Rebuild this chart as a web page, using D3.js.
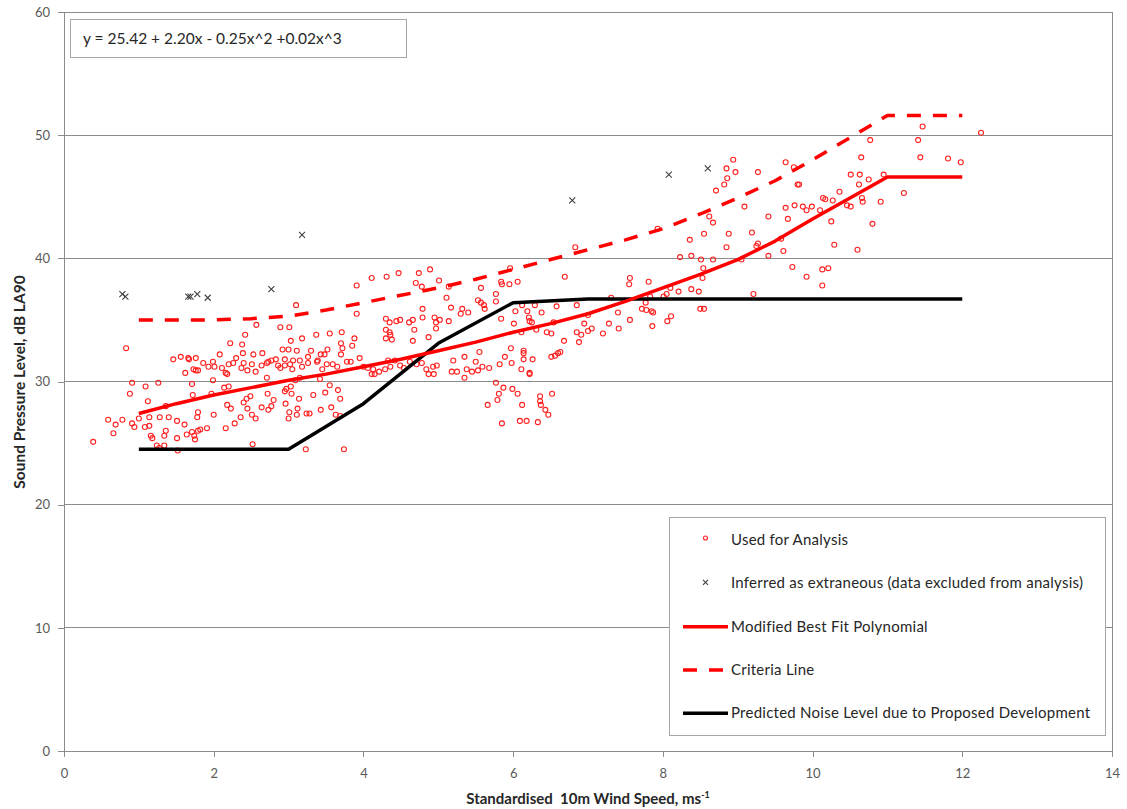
<!DOCTYPE html>
<html>
<head>
<meta charset="utf-8">
<script src="https://cdn.jsdelivr.net/npm/d3@7"></script>
<style>
  html, body { margin: 0; padding: 0; background: #fff; }
  svg { display: block; }
</style>
</head>
<body>
<svg id="chart" width="1127" height="809"></svg>
<script>
// ---------------- DATA ----------------
const xTicks = [0, 2, 4, 6, 8, 10, 12, 14];
const yTicks = [0, 10, 20, 30, 40, 50, 60];

const equationText = "y = 25.42 + 2.20x - 0.25x^2 +0.02x^3";
const xTitle = "Standardised  10m Wind Speed, ms";
const yTitle = "Sound Pressure Level, dB LA90";

const legendLabels = [
  "Used for Analysis",
  "Inferred as extraneous (data excluded from analysis)",
  "Modified Best Fit Polynomial",
  "Criteria Line",
  "Predicted Noise Level due to Proposed Development"
];

const curveX = [1, 1.5, 2, 2.5, 3, 3.5, 4, 4.5, 5, 5.5, 6, 6.5, 7, 7.5, 8, 8.5, 9, 9.5, 10, 10.5, 11, 12];
const bestFit = [27.4, 28.2, 28.9, 29.5, 30.1, 30.6, 31.2, 31.8, 32.5, 33.2, 34.0, 34.7, 35.5, 36.5, 37.6, 38.7, 39.9, 41.4, 43.2, 44.9, 46.6, 46.6];
const criteria = [35.0, 35.0, 35.0, 35.1, 35.3, 35.8, 36.4, 37.0, 37.6, 38.3, 39.1, 39.9, 40.7, 41.5, 42.4, 43.6, 44.9, 46.3, 48.0, 49.8, 51.6, 51.6];
const predictedX = [1, 2, 3, 4, 5, 6, 7, 8, 9, 10, 11, 12];
const predicted = [24.5, 24.5, 24.5, 28.2, 33.1, 36.4, 36.7, 36.7, 36.7, 36.7, 36.7, 36.7];

const extraneousPoints = [
  [0.78, 37.1], [0.82, 36.9], [1.66, 36.9], [1.69, 36.9], [1.78, 37.1],
  [1.92, 36.8], [2.77, 37.5], [3.18, 41.9], [6.79, 44.7], [8.08, 46.8], [8.60, 47.3]
];

const usedPoints = [
  [0.39,25.1],[0.83,32.7],[0.91,29.9],[0.88,29.0],[0.59,26.9],[0.69,26.5],[0.78,26.9],[0.66,25.8],
  [0.91,26.6],[0.94,26.3],[1.00,27.0],[1.09,29.6],[1.12,28.4],[1.14,27.1],[1.08,26.3],[1.14,26.4],
  [1.16,25.6],[1.18,25.4],[1.24,24.8],[1.27,24.6],[1.34,24.8],[1.34,25.6],[1.36,26.0],[1.26,29.9],
  [1.28,27.1],[1.40,27.1],[1.51,26.8],[1.51,25.4],[1.52,24.4],[1.36,28.0],[1.46,31.8],[1.56,32.0],
  [1.66,31.9],[1.67,31.8],[1.76,31.9],[1.62,30.7],[1.73,31.0],[1.76,30.9],[1.79,30.9],[1.71,29.8],
  [1.72,28.9],[1.79,27.5],[1.78,27.1],[1.61,26.5],[1.64,25.7],[1.71,25.9],[1.74,25.6],[1.75,25.3],
  [1.79,26.0],[1.82,26.1],[1.91,26.2],[1.86,31.5],[1.93,31.2],[1.99,31.6],[2.01,31.2],[1.99,30.1],
  [1.97,29.0],[2.00,27.3],[2.08,32.2],[2.11,31.1],[2.16,30.7],[2.18,30.6],[2.22,33.1],[2.20,31.4],
  [2.26,31.5],[2.30,31.9],[2.38,33.0],[2.39,32.3],[2.42,33.8],[2.57,34.6],[2.40,31.5],[2.37,31.1],
  [2.45,30.9],[2.51,31.4],[2.53,32.2],[2.56,30.8],[2.65,32.3],[2.64,31.3],[2.71,31.5],[2.73,31.6],
  [2.14,29.5],[2.20,29.6],[2.18,28.1],[2.23,27.8],[2.16,26.2],[2.28,26.6],[2.36,27.1],[2.40,28.3],
  [2.44,28.6],[2.49,28.8],[2.45,27.8],[2.51,27.3],[2.56,27.0],[2.64,27.9],[2.73,27.7],[2.52,24.9],
  [2.71,30.3],
  [2.89,34.4],[3.01,34.4],[3.10,36.2],[3.03,33.3],[2.92,32.6],[3.00,32.6],[3.11,32.5],[3.18,33.5],
  [3.30,32.5],[3.37,33.8],[3.55,33.9],[3.71,34.0],[3.91,37.8],[3.91,35.5],[3.70,33.1],[3.72,32.7],
  [3.70,32.2],[3.52,32.6],[3.43,32.2],[3.48,32.2],[3.26,32.0],[3.39,31.7],[3.15,31.7],[3.06,31.7],
  [2.95,31.8],[2.83,31.8],[2.77,31.7],[2.86,31.3],[2.89,31.1],[2.95,31.3],[3.02,31.4],[3.05,31.0],
  [3.18,31.2],[3.26,31.5],[3.38,31.6],[3.45,31.0],[3.51,31.4],[3.59,31.4],[3.65,31.2],[3.78,31.6],
  [3.83,31.6],[3.88,33.5],[3.85,32.9],[3.95,31.9],[4.00,31.2],[4.06,31.1],[4.13,31.0],[4.15,30.6],
  [4.21,30.8],[4.11,30.6],[4.29,31.0],[4.36,31.2],[4.33,31.7],[4.42,31.7],[4.49,31.3],[4.54,31.1],
  [4.62,31.6],[4.71,31.4],[4.78,31.5],[4.84,31.0],[4.93,31.2],[4.98,31.3],[4.87,30.6],[4.94,30.6],
  [5.18,30.8],[5.25,30.8],[5.20,31.7],[4.30,35.1],[4.35,34.8],[4.44,34.9],[4.49,35.0],[4.30,34.2],
  [4.35,34.0],[4.36,33.8],[4.30,33.5],[4.38,33.4],[4.61,34.8],[4.66,35.0],[4.79,35.9],[4.79,35.2],
  [4.68,34.2],[4.66,33.3],[4.87,33.6],[4.95,35.2],[4.97,34.8],[5.02,35.0],[4.97,34.3],[5.14,34.9],
  [5.17,36.0],[5.11,36.8],[5.14,37.7],[5.01,38.2],[4.89,39.1],[4.74,38.8],[4.70,38.0],[4.78,37.7],
  [4.47,38.8],[4.31,38.5],[4.11,38.4],
  [2.72,29.0],[2.80,28.5],[2.77,28.0],[2.96,28.2],[2.95,29.2],[3.04,29.0],[2.97,29.4],[3.09,30.1],
  [3.15,30.3],[3.03,29.6],[3.14,28.6],[3.01,27.5],[3.12,27.8],[3.00,27.0],[3.11,27.3],[3.24,27.4],
  [3.28,27.4],[3.33,28.9],[3.42,30.2],[3.49,29.1],[3.55,29.7],[3.66,29.3],[3.57,27.9],[3.69,28.6],
  [3.43,27.7],[3.63,27.3],[3.69,27.2],[3.23,24.5],[3.74,24.5],
  [5.57,37.6],[5.84,38.1],[5.85,37.9],[5.95,37.9],[6.06,38.1],[5.96,39.2],[6.69,38.5],[7.56,38.4],
  [7.55,37.9],[5.77,37.1],[5.77,36.5],[5.53,36.6],[5.57,36.4],[5.61,36.2],[5.62,35.9],[5.32,35.9],
  [5.30,35.5],[5.40,35.6],[5.84,35.1],[6.03,35.7],[6.12,36.2],[6.19,35.7],[6.21,35.2],[6.22,34.9],
  [6.25,34.8],[6.01,34.7],[6.11,34.0],[6.31,34.2],[6.29,36.2],[6.38,35.6],[6.58,36.1],[6.54,34.8],
  [6.45,34.0],[6.51,33.9],[6.68,33.3],[6.85,36.2],[7.00,35.4],[6.95,34.7],[7.00,34.1],[7.05,34.3],
  [6.85,34.0],[6.91,33.8],[6.88,33.2],[7.20,33.9],[7.28,34.7],[7.41,34.3],[7.40,35.6],[7.31,36.8],
  [7.56,35.0],[7.72,35.9],[7.77,36.4],
  [5.35,32.0],[5.50,31.6],[5.55,32.4],[5.38,31.0],[5.45,30.8],[5.35,30.3],[5.53,30.9],[5.59,31.2],
  [5.68,31.1],[5.82,31.4],[5.89,32.0],[5.97,32.7],[5.98,31.5],[6.14,32.5],[6.14,32.3],[6.14,31.8],
  [6.26,31.8],[6.11,31.0],[6.22,30.7],[6.22,30.6],[6.51,32.0],[6.56,32.1],[6.60,32.3],[6.63,32.4],
  [5.77,29.9],[5.87,29.5],[5.81,29.0],[5.79,28.5],[5.66,28.1],[5.99,29.4],[6.06,29.0],[6.12,28.1],
  [5.85,26.6],[6.09,26.8],[6.18,26.8],[6.33,26.7],[6.36,28.8],[6.36,28.4],[6.37,28.1],[6.52,29.0],
  [6.43,27.7],[6.47,27.3],[6.83,40.9],
  [8.94,48.0],[8.85,47.3],[8.97,47.0],[8.86,46.5],[8.82,46.0],[8.71,45.5],[9.27,47.0],[9.64,47.8],
  [9.75,47.4],[9.80,46.0],[9.82,46.0],[9.09,44.2],[9.64,44.1],[9.67,43.2],[9.76,44.3],[9.87,44.2],
  [9.92,43.9],[9.99,44.2],[10.10,43.9],[10.14,44.9],[10.17,44.8],[10.27,44.7],[10.36,45.4],[10.25,43.0],
  [10.29,41.1],[10.13,39.1],[10.21,39.2],[10.13,37.8],[9.92,38.5],[9.73,39.3],[9.61,40.6],[9.58,41.6],
  [9.41,43.4],[9.41,40.2],[9.25,41.0],[9.27,41.2],[9.19,42.1],[9.05,39.9],[9.21,37.1],[8.88,42.0],
  [8.85,40.9],[8.67,42.9],[8.62,43.4],[8.55,42.0],[8.36,41.5],[7.93,42.4],[8.23,40.1],[8.38,40.2],
  [8.51,39.9],[8.67,39.9],[8.54,39.2],[8.53,38.4],[8.48,37.3],[8.38,37.5],[8.21,37.3],[8.10,37.6],
  [8.05,37.1],[8.01,36.9],[7.81,38.1],[7.83,36.9],[7.85,35.7],[7.78,35.8],[7.87,35.6],[7.86,34.5],
  [8.06,34.9],[8.11,35.3],[8.50,35.9],[8.55,35.9],
  [10.77,49.6],[10.65,48.2],[10.51,46.8],[10.63,46.8],[10.62,46.0],[10.75,46.4],[10.66,44.9],[10.67,44.6],
  [10.51,44.2],[10.46,44.3],[10.80,42.8],[10.91,44.6],[10.95,46.8],[11.22,45.3],[11.41,49.6],[11.47,50.7],
  [11.44,48.2],[11.81,48.1],[11.98,47.8],[12.25,50.2],[10.60,40.7]
];

// ---------------- LAYOUT ----------------
const svg = d3.select("#chart");
const plot = { left: 64, right: 1112, top: 12, bottom: 751 };

const x = d3.scaleLinear().domain([0, 14]).range([plot.left, plot.right]);
const y = d3.scaleLinear().domain([0, 60]).range([plot.bottom, plot.top]);

const font = "Lato, 'Open Sans', sans-serif";
const gridColor = "#8c8c8c";
const tickColor = "#595959";

// Horizontal gridlines
svg.append("g")
  .selectAll("line")
  .data(yTicks.filter(d => d > 0))
  .join("line")
  .attr("x1", plot.left).attr("x2", plot.right)
  .attr("y1", d => y(d)).attr("y2", d => y(d))
  .attr("stroke", gridColor).attr("stroke-width", 1)
  .attr("shape-rendering", "crispEdges");

// Right border of plot area
svg.append("line")
  .attr("x1", plot.right).attr("x2", plot.right)
  .attr("y1", plot.top).attr("y2", plot.bottom)
  .attr("stroke", gridColor).attr("stroke-width", 1)
  .attr("shape-rendering", "crispEdges");

// Axes
const xAxis = svg.append("g")
  .attr("transform", `translate(0,${plot.bottom})`)
  .call(d3.axisBottom(x).tickValues(xTicks).tickSize(6).tickPadding(12).tickFormat(d3.format("d")));
const yAxis = svg.append("g")
  .attr("transform", `translate(${plot.left},0)`)
  .call(d3.axisLeft(y).tickValues(yTicks).tickSize(6).tickPadding(8).tickFormat(d3.format("d")));

[xAxis, yAxis].forEach(g => {
  g.select(".domain").attr("stroke", gridColor).attr("shape-rendering", "crispEdges");
  g.selectAll(".tick line").attr("stroke", gridColor).attr("shape-rendering", "crispEdges");
  g.selectAll(".tick text")
    .attr("fill", tickColor)
    .style("font-family", font)
    .style("font-size", "13px");
});

// Axis titles
const xt = svg.append("text")
  .attr("x", 588).attr("y", 804)
  .attr("text-anchor", "middle")
  .style("white-space", "pre")
  .style("font-family", font).style("font-size", "15px").style("font-weight", "bold")
  .attr("fill", "#262626");
xt.append("tspan").text(xTitle);
xt.append("tspan").attr("dy", -6).style("font-size", "9px").text("-1");

svg.append("text")
  .attr("transform", `translate(25,382) rotate(-90)`)
  .attr("text-anchor", "middle")
  .style("font-family", font).style("font-size", "15.5px").style("font-weight", "bold")
  .attr("fill", "#262626")
  .text(yTitle);

// Equation box
svg.append("rect")
  .attr("x", 70.5).attr("y", 19.5).attr("width", 336).attr("height", 38)
  .attr("fill", "#fff").attr("stroke", "#a6a6a6").attr("stroke-width", 1);
svg.append("text")
  .attr("x", 83).attr("y", 44)
  .style("font-family", font).style("font-size", "15.5px")
  .attr("fill", "#262626")
  .text(equationText);

// ---------------- MARKS ----------------
const lineGen = d3.line().x(d => x(d[0])).y(d => y(d[1]));

// Scatter - used for analysis
svg.append("g")
  .selectAll("circle")
  .data(usedPoints)
  .join("circle")
  .attr("cx", d => x(d[0])).attr("cy", d => y(d[1]))
  .attr("r", 2.5)
  .attr("fill", "none").attr("stroke", "#ff2020").attr("stroke-width", 1.1);

// Extraneous X markers
const xSize = 3;
svg.append("g").selectAll("path")
  .data(extraneousPoints)
  .join("path")
  .attr("d", d => {
    const cx = x(d[0]), cy = y(d[1]);
    return `M${cx - xSize},${cy - xSize}L${cx + xSize},${cy + xSize}M${cx - xSize},${cy + xSize}L${cx + xSize},${cy - xSize}`;
  })
  .attr("stroke", "#404040").attr("stroke-width", 1.1).attr("fill", "none");

// Lines
svg.append("path")
  .datum(predictedX.map((v, i) => [v, predicted[i]]))
  .attr("d", lineGen)
  .attr("fill", "none").attr("stroke", "#000").attr("stroke-width", 3.5)
  .attr("stroke-linejoin", "round");

svg.append("path")
  .datum(curveX.map((v, i) => [v, criteria[i]]))
  .attr("d", lineGen)
  .attr("fill", "none").attr("stroke", "#ff0000").attr("stroke-width", 3.5)
  .attr("stroke-linejoin", "round")
  .attr("stroke-dasharray", "14,12");

svg.append("path")
  .datum(curveX.map((v, i) => [v, bestFit[i]]))
  .attr("d", lineGen)
  .attr("fill", "none").attr("stroke", "#ff0000").attr("stroke-width", 3.5)
  .attr("stroke-linejoin", "round");

// ---------------- LEGEND ----------------
const lg = svg.append("g");
lg.append("rect")
  .attr("x", 669.5).attr("y", 517.5).attr("width", 436).attr("height", 218)
  .attr("fill", "#fff").attr("stroke", "#a6a6a6").attr("stroke-width", 1);

const rowY = [540, 583.3, 626.7, 670, 713.3];
legendLabels.forEach((lbl, i) => {
  const yy = rowY[i];
  if (i === 0) {
    lg.append("circle").attr("cx", 705.5).attr("cy", yy - 2).attr("r", 2)
      .attr("fill", "none").attr("stroke", "#ff2020").attr("stroke-width", 1.1);
  } else if (i === 1) {
    const cx = 705.5, cy = yy - 1, s = 2.5;
    lg.append("path")
      .attr("d", `M${cx - s},${cy - s}L${cx + s},${cy + s}M${cx - s},${cy + s}L${cx + s},${cy - s}`)
      .attr("stroke", "#404040").attr("stroke-width", 1.1);
  } else {
    const ln = lg.append("line")
      .attr("x1", 683).attr("x2", 728).attr("y1", yy).attr("y2", yy)
      .attr("stroke", i === 4 ? "#000" : "#ff0000").attr("stroke-width", 3.5);
    if (i === 3) ln.attr("stroke-dasharray", "14,12");
  }
  lg.append("text")
    .attr("x", 731).attr("y", yy + 5)
    .style("font-family", font).style("font-size", "15px")
    .style("letter-spacing", "0.25px")
    .attr("fill", "#262626")
    .text(lbl);
});
</script>
</body>
</html>
